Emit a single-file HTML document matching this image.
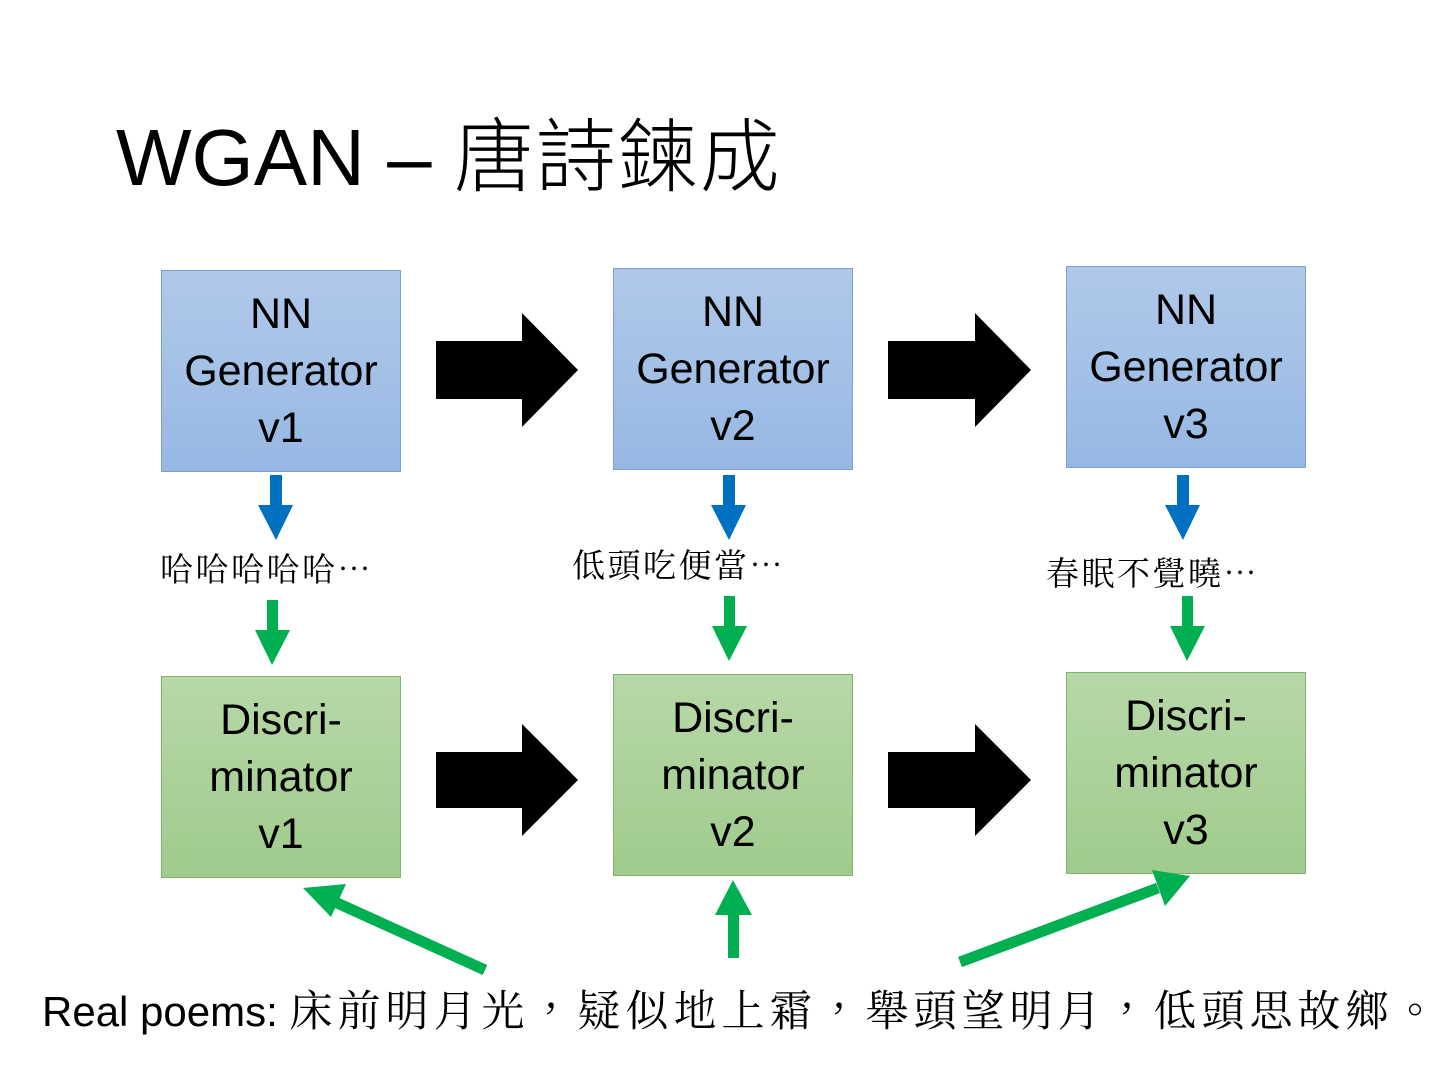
<!DOCTYPE html>
<html><head><meta charset="utf-8"><style>
body{margin:0;width:1440px;height:1080px;background:#fff;position:relative;overflow:hidden;font-family:"Liberation Sans","Noto Sans CJK TC",sans-serif}
.t{position:absolute;white-space:nowrap}
.box{position:absolute;width:238px;height:200px;display:flex;align-items:center;justify-content:center;text-align:center;font-size:43px;line-height:57px;color:#000;font-family:"Liberation Sans","DejaVu Sans",sans-serif}
.g{background:linear-gradient(#b0c9ea,#97b8e3);border:1px solid #7b9fd0}
.d{background:linear-gradient(#b7d8a8,#a0cb8c);border:1px solid #80b468}
.cj{font-family:"Noto Serif CJK SC","Noto Serif CJK TC",serif;font-size:33px;letter-spacing:2.5px;line-height:40px}
</style></head><body>
<div class="t" style="left:116px;top:108px;font-size:80px;line-height:100px;font-family:'Liberation Sans','Noto Sans CJK TC',sans-serif;font-weight:300">WGAN – <span style="letter-spacing:2px">唐詩鍊成</span></div>

<div class="box g" style="left:161px;top:270px">NN<br>Generator<br>v1</div>
<div class="box g" style="left:613px;top:268px">NN<br>Generator<br>v2</div>
<div class="box g" style="left:1066px;top:266px">NN<br>Generator<br>v3</div>
<div class="box d" style="left:161px;top:676px">Discri-<br>minator<br>v1</div>
<div class="box d" style="left:613px;top:674px">Discri-<br>minator<br>v2</div>
<div class="box d" style="left:1066px;top:672px">Discri-<br>minator<br>v3</div>

<div class="t cj" style="left:160px;top:548px">哈哈哈哈哈…</div>
<div class="t cj" style="left:572px;top:544px">低頭吃便當…</div>
<div class="t cj" style="left:1046px;top:552px">春眠不覺曉…</div>
<div class="t" style="left:42px;top:984px;font-size:42px;line-height:50px">Real poems: <span style="font-family:'Noto Serif CJK TC','Noto Serif CJK SC',serif;font-size:43px;letter-spacing:5px">床前明月光，疑似地上霜，舉頭望明月，低頭思故鄉。</span></div>

<svg width="1440" height="1080" style="position:absolute;left:0;top:0">
<g fill="#000">
<polygon points="436,341 522,341 522,313 578,370 522,427 522,399 436,399"/>
<polygon points="888,341 975,341 975,313 1031,370 975,427 975,399 888,399"/>
<polygon points="436,752 522,752 522,724 578,780 522,836 522,808 436,808"/>
<polygon points="888,752 975,752 975,724 1031,780 975,836 975,808 888,808"/>
</g>
<g fill="#0070c0">
<polygon points="270,475 282,475 282,505 293,505 276,540 258,505 270,505"/>
<polygon points="723,475 735,475 735,505 746,505 729,540 711,505 723,505"/>
<polygon points="1177,475 1189,475 1189,505 1200,505 1183,540 1165,505 1177,505"/>
</g>
<g fill="#00b050">
<polygon points="267,600 278,600 278,630 290,630 272,665 255,630 267,630"/>
<polygon points="724,596 735,596 735,626 747,626 729,661 712,626 724,626"/>
<polygon points="1182,596 1193,596 1193,626 1205,626 1187,661 1170,626 1182,626"/>
<polygon points="728,958 739,958 739,915 752,915 733,880 715,915 728,915"/>
</g>
<g stroke="#00b050" stroke-width="11" fill="#00b050">
<line x1="485" y1="970" x2="335" y2="902"/>
<line x1="960" y1="962" x2="1158" y2="888"/>
</g>
<g fill="#00b050">
<polygon points="303,888 346,884 331,917"/>
<polygon points="1190,876 1152,870 1165,906"/>
</g>
</svg>
</body></html>
